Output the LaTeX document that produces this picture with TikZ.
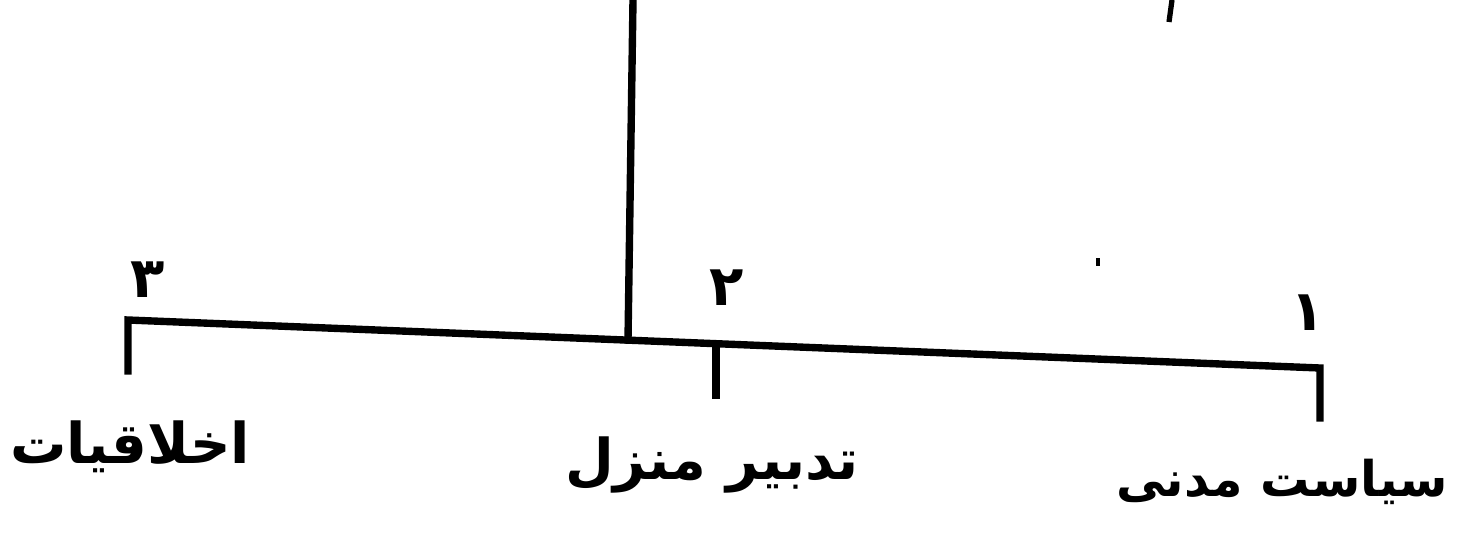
\documentclass[tikz,border=0pt]{standalone}
\usepackage{fontspec}
\usepackage{tikz}
\usetikzlibrary{positioning}
\TeXXeTstate=1
\newfontfamily\arabicfont[Script=Arabic]{DejaVu Sans}
\newcommand{\fa}[1]{\arabicfont\bfseries\beginR #1\endR}

\begin{document}
\begin{tikzpicture}[x=0.02cm, y=-0.02cm,
    bar/.style={line width=4.2pt, line cap=rect},
    branch/.style={font=\fontsize{32}{38}\selectfont, inner sep=0pt},
    digit/.style={font=\fontsize{32}{36}\selectfont, inner sep=0pt}]
      \useasboundingbox (0,0) rectangle (1458,558);
      \coordinate (stemtop) at (633,0);
      \coordinate (hub) at (628,340);
      \coordinate (leftend) at (128,320);
      \coordinate (midtick) at (716,344);
      \coordinate (rightend) at (1320,368);
      \coordinate (leftfoot) at (128,371);
      \coordinate (midfoot) at (716,395);
      \coordinate (rightfoot) at (1320,418);
      \node[branch] (ethics) at (130,447) {\fa{اخلاقیات}};
      \node[branch] (household) at (712,465) {\fa{تدبیر منزل}};
      \node[branch, font=\fontsize{28}{34}\selectfont] (politics) at (1282,482) {\fa{سیاست مدنی}};
      \node[digit] (n3) at (148,280) {\fa{۳}};
      \node[digit] (n2) at (727,288) {\fa{۲}};
      \node[digit] (n1) at (1308,313) {\fa{۱}};
      \draw[bar] (stemtop) -- (hub);
      \draw[bar] (leftfoot) -- (leftend) -- (rightend) -- (rightfoot);
      \draw[bar] (midtick) -- (midfoot);
      \draw[line width=3pt] (1172,0) -- (1169,22);
      \draw[line width=2pt] (1098,258) -- (1098,266);
    \end{tikzpicture}
\end{document}
